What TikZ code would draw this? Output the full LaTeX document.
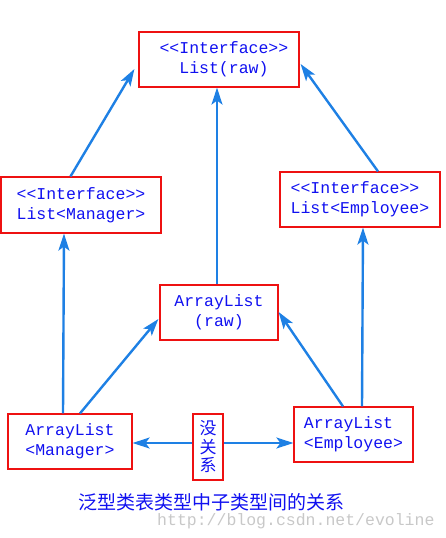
\documentclass[tikz,border=0pt]{standalone}
\usepackage{fontspec}
\setmonofont{Liberation Mono}
\newfontfamily\cjk{Noto Sans CJK SC}
\usetikzlibrary{arrows.meta}
\definecolor{boxred}{HTML}{EE1111}
\definecolor{txtblue}{HTML}{1010F0}
\definecolor{arrblue}{HTML}{1E80E4}
\definecolor{wmgray}{HTML}{C8C8C8}
\begin{document}
\begin{tikzpicture}[x=1pt,y=-1pt,
  box/.style={draw=boxred, line width=1.2pt, rectangle, inner sep=0pt, align=left,
    text=txtblue, font=\ttfamily\fontsize{16.5}{20}\selectfont},
  cbox/.style={draw=boxred, line width=1.2pt, rectangle, inner sep=0pt, align=center,
    text=txtblue, font=\cjk\fontsize{17}{18.5}\selectfont},
  arr/.style={draw=arrblue, line width=2.4pt, -{Stealth[length=17pt,width=11pt,inset=4pt]}}]
\useasboundingbox (0,0) rectangle (446,538);
\node[box, minimum width=160pt, minimum height=55pt] (top) at (219,59.5) {\ <<Interface>>\\\ \ \ List(raw)};
\node[box, minimum width=160pt, minimum height=56pt] (lm) at (81,205) {<<Interface>>\\List<Manager>};
\node[box, minimum width=160pt, minimum height=55pt] (le) at (360,199.5) {<<Interface>>\\List<Employee>};
\node[box, minimum width=118pt, minimum height=55pt, align=center] (ar) at (219,312.5) {ArrayList\\(raw)};
\node[box, minimum width=124pt, minimum height=55pt] (am) at (70,441.5) {ArrayList\\<Manager>};
\node[box, minimum width=119pt, minimum height=55pt] (ae) at (353.5,434.5) {ArrayList\\<Employee>};
\node[cbox, minimum width=30pt, minimum height=66pt] (mg) at (208,447) {没\\关\\系};
\node[text=txtblue, font=\cjk\fontsize{19}{20}\selectfont, inner sep=0pt] (cap) at (211,502) {泛型类表类型中子类型间的关系};
\node[text=wmgray, font=\ttfamily\fontsize{16.5}{20}\selectfont, anchor=west, inner sep=0pt] (wm) at (157,521) {http://blog.csdn.net/evoline};
\draw[arr] ([xshift=-10.5pt]lm.north) -- ([xshift=-4pt,yshift=-9.5pt]top.west);
\draw[arr] ([xshift=-2pt]ar.north) -- ([xshift=-2pt]top.south);
\draw[arr] ([xshift=18pt]le.north) -- ([xshift=1pt,yshift=-4.5pt]top.east);
\draw[arr] ([xshift=-7pt]am.north) -- ([xshift=-17pt]lm.south);
\draw[arr] ([xshift=8.5pt]ae.north) -- ([xshift=3pt]le.south);
\draw[arr] ([xshift=10pt]am.north) -- ([xshift=-1pt,yshift=-6.5pt]ar.west);
\draw[arr] ([xshift=-10.5pt]ae.north) -- ([yshift=0.5pt]ar.east);
\draw[arr] ([yshift=4pt]mg.west) -- ([yshift=-1.5pt]am.east);
\draw[arr] ([yshift=4pt]mg.east) -- ([yshift=-8.5pt]ae.west);
\end{tikzpicture}
\end{document}
